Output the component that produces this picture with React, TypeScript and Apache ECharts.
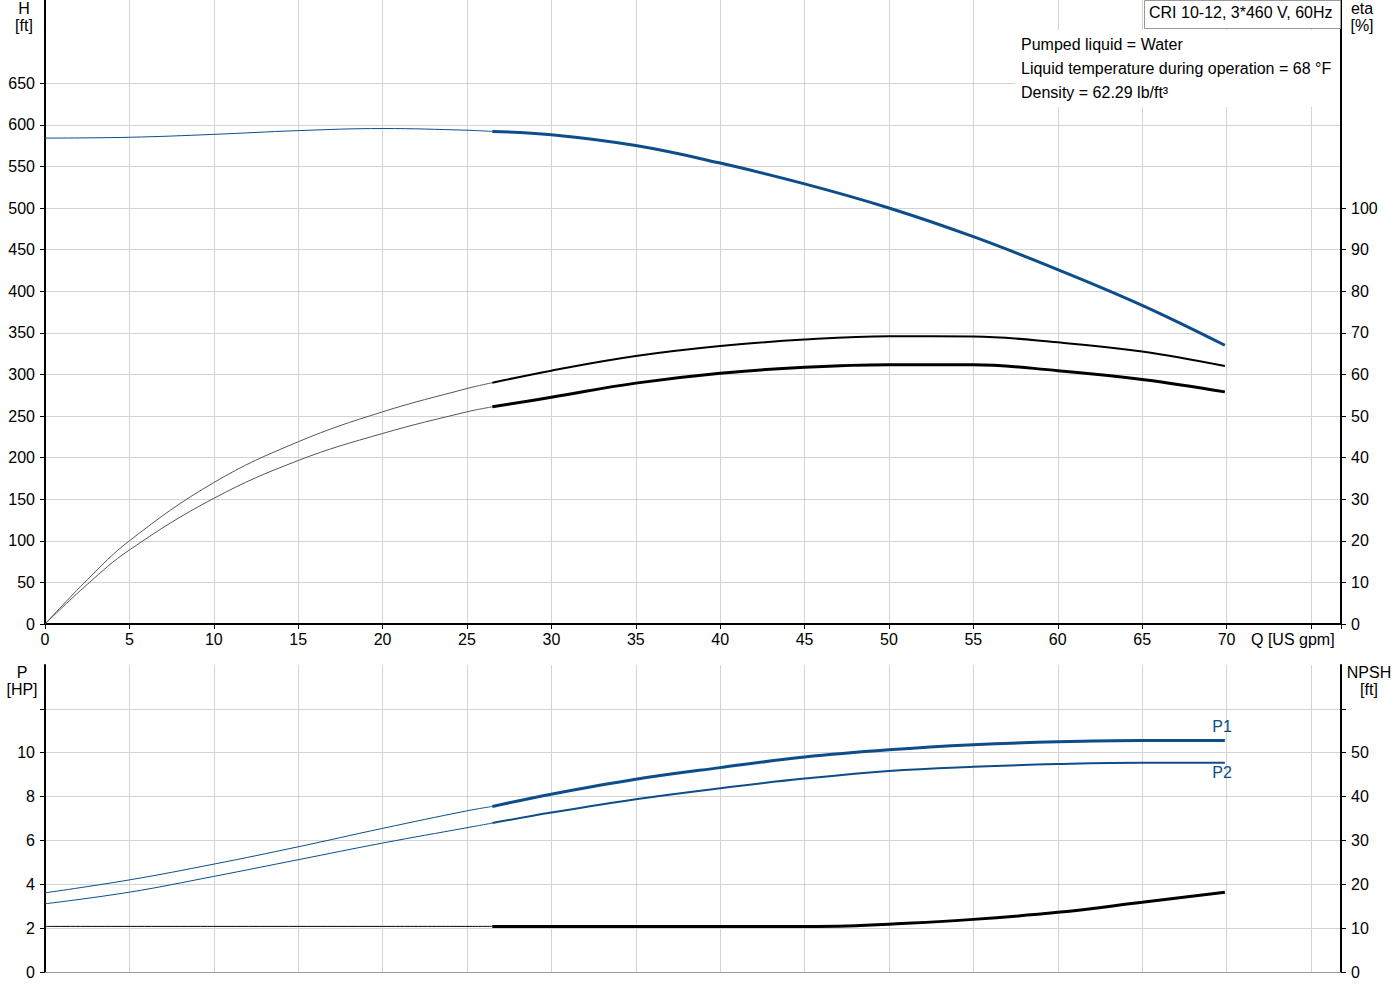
import { useEffect, useRef } from 'react';
import * as echarts from 'echarts';

// flow Q [US gpm] vs curves; thin part = outside recommended range
const headThin = [[0, 584], [5, 585], [10, 588.5], [15, 593], [20, 595.5], [25, 593.5], [26.5, 592]];
const headThick = [[26.5, 592], [30, 588], [35, 575], [40, 554], [45, 529], [50, 500], [55, 465.5], [60, 426], [65, 383], [69.9, 335]];

const etaPumpThin = [[0, 0], [2.5, 10.6], [5, 20], [10, 34], [15, 43.8], [20, 51], [25, 56.6], [26.5, 58]];
const etaPumpThick = [[26.5, 58], [30, 60.9], [35, 64.4], [40, 66.8], [45, 68.4], [50, 69.2], [55, 69.1], [60, 67.7], [65, 65.5], [69.9, 62]];
const etaTotalThin = [[0, 0], [2.5, 9.5], [5, 17.8], [10, 30.2], [15, 39.3], [20, 45.8], [25, 51], [26.5, 52.2]];
const etaTotalThick = [[26.5, 52.2], [30, 54.5], [35, 57.9], [40, 60.3], [45, 61.7], [50, 62.3], [55, 62.3], [60, 60.9], [65, 58.8], [69.9, 55.8]];

const p1Thin = [[0, 3.61], [5, 4.2], [10, 4.92], [15, 5.71], [20, 6.55], [25, 7.35], [26.5, 7.55]];
const p1Thick = [[26.5, 7.55], [30, 8.11], [35, 8.79], [40, 9.32], [45, 9.8], [50, 10.13], [55, 10.36], [60, 10.5], [65, 10.56], [69.9, 10.56]];
const p2Thin = [[0, 3.11], [5, 3.64], [10, 4.36], [15, 5.12], [20, 5.88], [25, 6.58], [26.5, 6.79]];
const p2Thick = [[26.5, 6.79], [30, 7.27], [35, 7.88], [40, 8.38], [45, 8.82], [50, 9.17], [55, 9.36], [60, 9.48], [65, 9.54], [69.9, 9.54]];

const npshThin = [[0, 10.4], [10, 10.4], [20, 10.4], [26.5, 10.4]];
const npshThick = [[26.5, 10.4], [35, 10.4], [45, 10.4], [47.5, 10.5], [50, 10.9], [55, 12], [60, 13.6], [65, 15.9], [69.9, 18.2]];

const qLabels = [0, 5, 10, 15, 20, 25, 30, 35, 40, 45, 50, 55, 60, 65, 70];
const hLabels = [0, 50, 100, 150, 200, 250, 300, 350, 400, 450, 500, 550, 600, 650];
const etaLabels = [0, 10, 20, 30, 40, 50, 60, 70, 80, 90, 100];
const pLabels = [0, 2, 4, 6, 8, 10];
const pTicks = [0, 2, 4, 6, 8, 10, 12];
const npshLabels = [0, 10, 20, 30, 40, 50];
const npshTicks = [0, 10, 20, 30, 40, 50, 60];

const infoLines = ['Pumped liquid = Water', 'Liquid temperature during operation = 68 °F', 'Density = 62.29 lb/ft³'];

const BLUE = '#0c4d8a';
const GRID = '#d3d3d3';
const FONT = 'Liberation Sans, Arial, sans-serif';
const FS = 16;

function line(data: number[][], x: number, y: number, color: string, width: number) {
  return {
    type: 'line',
    xAxisIndex: x,
    yAxisIndex: y,
    data,
    symbol: 'none',
    smooth: 0.4,
    lineStyle: { color, width },
    silent: true,
  };
}

function xAxis(gridIndex: number, labels: boolean) {
  return {
    type: 'value',
    gridIndex,
    min: 0,
    max: 76.78,
    interval: 5,
    axisLine: { show: true, onZero: false, lineStyle: { color: labels ? '#000' : '#999', width: labels ? 2 : 1 } },
    axisTick: { show: labels, length: 5, lineStyle: { color: '#000' } },
    axisLabel: labels
      ? { show: true, customValues: qLabels, color: '#000', fontSize: FS, margin: 7, fontFamily: FONT }
      : { show: false },
    splitLine: { show: true, lineStyle: { color: GRID, width: 1 } },
  };
}

function yAxis(gridIndex: number, position: string, max: number, interval: number, labels: number[], ticks: number[], split: boolean) {
  return {
    type: 'value',
    gridIndex,
    position,
    min: 0,
    max,
    interval,
    axisLine: { show: true, onZero: false, lineStyle: { color: '#000', width: 2 } },
    axisTick: { show: true, length: 5, customValues: ticks, lineStyle: { color: '#000' } },
    axisLabel: { show: true, customValues: labels, color: '#000', fontSize: FS, margin: 10, fontFamily: FONT },
    splitLine: { show: split, lineStyle: { color: GRID, width: 1 } },
  };
}

export default function App() {
  const chartRef = useRef<HTMLDivElement>(null);

  useEffect(() => {
    if (!chartRef.current) return;
    const chart = echarts.init(chartRef.current, undefined, { renderer: 'svg' });
    const txt = { fontSize: FS, fontFamily: FONT, fill: '#000' };
    chart.setOption({
      animation: false,
      backgroundColor: '#fff',
      textStyle: { fontFamily: FONT },
      grid: [
        { left: 45, top: 0, width: 1296, height: 624 },
        { left: 45, top: 665, width: 1296, height: 307 },
      ],
      xAxis: [xAxis(0, true), xAxis(1, false)],
      yAxis: [
        yAxis(0, 'left', 750, 50, hLabels, hLabels, true),
        yAxis(0, 'right', 150, 10, etaLabels, etaLabels, false),
        yAxis(1, 'left', 14, 2, pLabels, pTicks, true),
        yAxis(1, 'right', 70, 10, npshLabels, npshTicks, false),
      ],
      series: [
        line(headThin, 0, 0, BLUE, 1),
        line(headThick, 0, 0, BLUE, 3),
        line(etaPumpThin, 0, 1, '#555', 1),
        line(etaPumpThick, 0, 1, '#000', 2),
        line(etaTotalThin, 0, 1, '#555', 1),
        line(etaTotalThick, 0, 1, '#000', 3),
        line(p1Thin, 1, 2, BLUE, 1),
        line(p1Thick, 1, 2, BLUE, 3),
        line(p2Thin, 1, 2, BLUE, 1),
        line(p2Thick, 1, 2, BLUE, 2),
        line(npshThin, 1, 3, '#000', 1),
        line(npshThick, 1, 3, '#000', 3),
      ],
      graphic: [
        { type: 'text', x: 24, y: 0, z: 100, style: { ...txt, text: 'H\n[ft]', align: 'center', lineHeight: 17 } },
        { type: 'text', x: 1362, y: 0, z: 100, style: { ...txt, text: 'eta\n[%]', align: 'center', lineHeight: 17 } },
        { type: 'text', x: 22, y: 664, z: 100, style: { ...txt, text: 'P\n[HP]', align: 'center', lineHeight: 17 } },
        { type: 'text', x: 1369, y: 664, z: 100, style: { ...txt, text: 'NPSH\n[ft]', align: 'center', lineHeight: 17 } },
        { type: 'text', x: 1251, y: 639, z: 100, style: { ...txt, text: 'Q [US gpm]', verticalAlign: 'middle' } },
        { type: 'rect', z: 90, shape: { x: 1015, y: 30, width: 325, height: 77 }, style: { fill: '#fff' } },
        ...infoLines.map((t, i) => ({
          type: 'text', x: 1021, y: 44 + i * 24, z: 100,
          style: { ...txt, text: t, verticalAlign: 'middle' },
        })),
        { type: 'rect', z: 95, shape: { x: 1144.5, y: 0.5, width: 196, height: 28 }, style: { fill: '#fff', stroke: '#999', lineWidth: 1 } },
        { type: 'text', x: 1149, y: 12, z: 100, style: { ...txt, text: 'CRI 10-12, 3*460 V, 60Hz', verticalAlign: 'middle' } },
        { type: 'text', x: 1222, y: 726, z: 100, style: { ...txt, fill: BLUE, text: 'P1', align: 'center', verticalAlign: 'middle' } },
        { type: 'text', x: 1222, y: 772, z: 100, style: { ...txt, fill: BLUE, text: 'P2', align: 'center', verticalAlign: 'middle' } },
      ],
    });
    return () => {
      chart.dispose();
    };
  }, []);

  return (
    <div
      ref={chartRef}
      style={{ position: 'absolute', left: 0, top: 0, width: 1400, height: 1000 }}
    ></div>
  );
}
